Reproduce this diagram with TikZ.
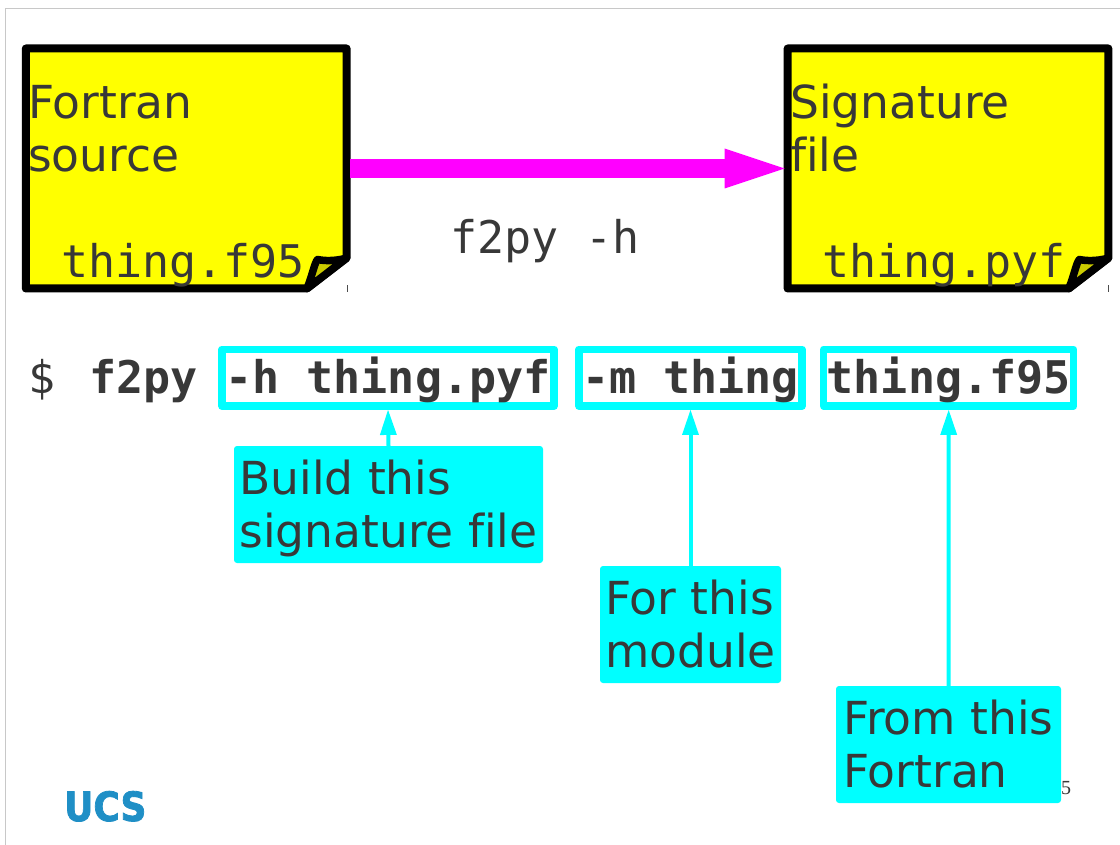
\documentclass[tikz,border=0pt]{standalone}
\usepackage{fontspec}
\setmainfont[Ligatures=NoCommon]{DejaVu Sans}
\setmonofont{DejaVu Sans Mono}
\newfontfamily\numfont{Liberation Serif}
\newfontfamily\logofont[UprightFeatures={FakeBold=2}]{DejaVu Sans Bold}
\usetikzlibrary{arrows.meta,calc}
\definecolor{ink}{HTML}{383838}
\definecolor{foldc}{HTML}{CCCC00}
\definecolor{logoc}{HTML}{1F8FC6}
\definecolor{edgec}{HTML}{C8C8C8}
\definecolor{noteyellow}{RGB}{255,255,0}
\definecolor{calloutcyan}{RGB}{0,255,255}
\definecolor{flowmagenta}{RGB}{255,0,255}
\newcommand{\notebody}[1]{%
  \fill[noteyellow] (#1.north west) -- (#1.north east) -- ++(0,210) -- ++(-40,30) -- (#1.south west) -- cycle;
  \draw[line width=8pt,line join=round] (#1.north west) -- (#1.north east) -- ++(0,209.5) -- ++(-39.6,30.5) -- (#1.south west) -- cycle;
  \draw[fill=foldc,line width=7.5pt,line join=round] ($(#1.south east)+(-39.6,0)$) .. controls ($(#1.south east)+(-34,-14)$) and ($(#1.south east)+(-32,-26)$) .. ($(#1.south east)+(-29,-29)$) .. controls ($(#1.south east)+(-20,-27)$) and ($(#1.south east)+(-8,-28)$) .. ($(#1.south east)+(0,-30.5)$) -- cycle;
  \draw[line width=1pt,black!70] ($(#1.south east)+(0.4,-3)$) -- ($(#1.south east)+(0.4,4)$);
}
\newcommand{\twolines}[2]{\rule{0pt}{43pt}#1\\#2\rule[-11pt]{0pt}{11pt}}
\tikzset{
  notebox/.style={rectangle,inner sep=0pt,outer sep=0pt,minimum width=320.8pt,minimum height=240pt,anchor=north west},
  bigtext/.style={inner sep=0pt,anchor=base west,text=ink,font=\fontsize{45.5}{53}\selectfont,align=left},
  codetext/.style={inner sep=0pt,anchor=base west,text=ink,font=\fontsize{45}{53}\selectfont\ttfamily},
  cmdbox/.style={draw=calloutcyan,fill=white,line width=7.5pt,line join=round,inner xsep=0pt,inner ysep=8pt,text height=35.7pt,text depth=5.2pt,anchor=base,text=ink,font=\fontsize{45}{53}\selectfont\ttfamily\bfseries,outer sep=0pt},
  callout/.style={fill=calloutcyan,rounded corners=3pt,inner xsep=5pt,inner ysep=0pt,text=ink,align=left,font=\fontsize{45.5}{53}\selectfont,outer sep=0pt},
  pointer/.style={draw=calloutcyan,line width=4pt,shorten >=3.75pt,-{Triangle[length=25pt,width=17pt,line width=0pt]}},
  flow/.style={draw=flowmagenta,line width=19pt,shorten <=3.7pt,shorten >=3pt,-{Triangle[length=60pt,width=40pt,line width=0pt]}},
}
\begin{document}
\begin{tikzpicture}[x=1pt,y=-1pt]
\useasboundingbox (0,0) rectangle (1120,845);
\fill[white] (0,0) rectangle (1120,845);
\coordinate (edgeA) at (5.5,845);
\coordinate (edgeB) at (5.5,9);
\coordinate (edgeC) at (1120,9);
\draw[edgec,line width=1pt] (edgeA) -- (edgeB) -- (edgeC);
% notes
\node[notebox] (src) at (25.8,48.5) {};
\node[notebox] (sig) at (787.6,48.5) {};
\notebody{src}
\notebody{sig}
\node[bigtext] (srcT) at (28,171.5) {Fortran\\source};
\node[bigtext] (sigT) at (790,171.5) {Signature\\file};
\node[codetext] (srcF) at (61,278) {thing.f95};
\node[codetext] (sigF) at (822,278) {thing.pyf};
\draw[flow] (src.east) -- (sig.west);
\node[codetext] (cmdlab) at (450,254) {f2py -h};
% command
\node[codetext] (dollar) at (28,393) {\$};
\node[codetext,font=\fontsize{45}{53}\selectfont\ttfamily\bfseries] (f2py) at (89,393) {f2py};
\node[cmdbox,minimum width=332pt] (optH) at (388,393) {-h thing.pyf};
\node[cmdbox,minimum width=223pt] (optM) at (690.5,393) {-m thing};
\node[cmdbox,minimum width=250pt] (optF) at (948.7,393) {thing.f95};
% callouts
\node[callout,minimum width=309pt,minimum height=117pt] (noteH) at (388.5,504.5) {\twolines{Build this}{signature file}};
\node[callout,minimum width=181pt,minimum height=117pt] (noteM) at (690.5,624.5) {\twolines{For this}{module}};
\node[callout,minimum width=225pt,minimum height=117pt] (noteF) at (948.5,744.5) {\twolines{From this}{Fortran}};
\draw[pointer] (noteH.north) -- (optH.south);
\draw[pointer] (noteM.north) -- (optM.south);
\draw[pointer] (noteF.north) -- (optF.south);
% page number and logo
\node[inner sep=0pt,anchor=base west,text=ink,font=\fontsize{20}{24}\selectfont\numfont] (page) at (1061,794) {5};
\node[inner sep=0pt,anchor=base west,text=logoc,font=\fontsize{36}{40}\selectfont\logofont] (logo) at (64,821) {\scalebox{1}[1.12]{UCS}};
\end{tikzpicture}
\end{document}
